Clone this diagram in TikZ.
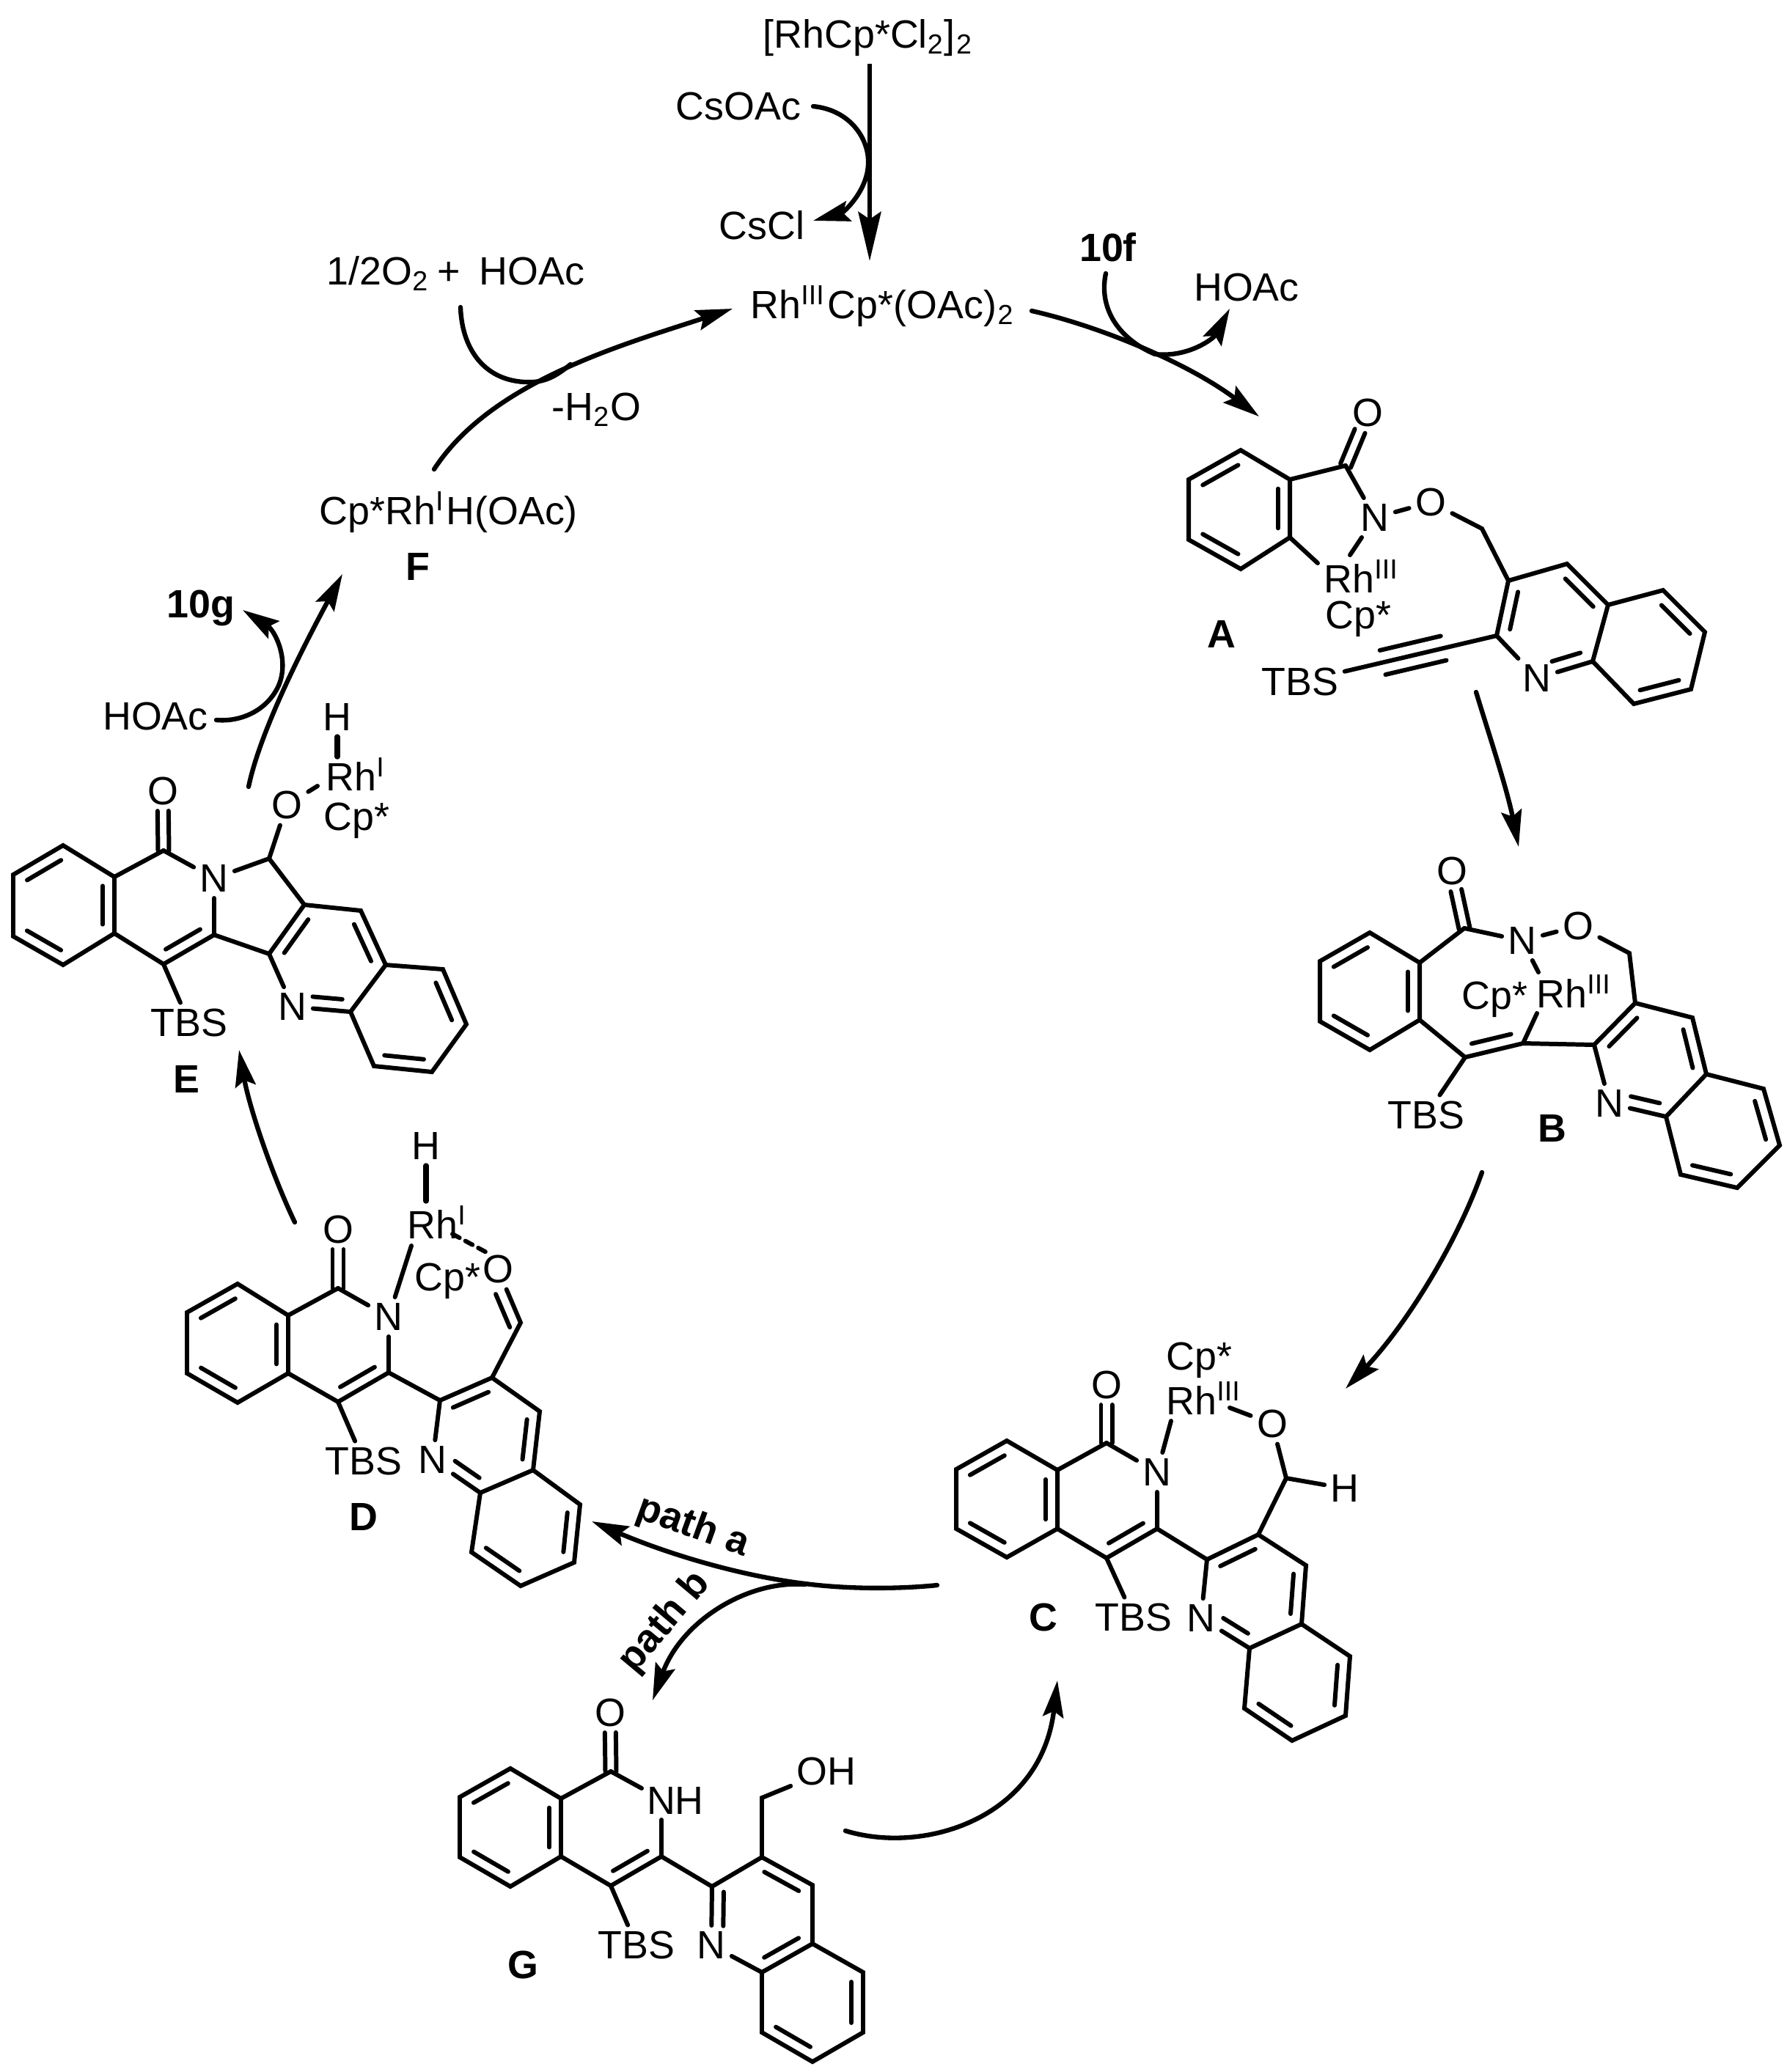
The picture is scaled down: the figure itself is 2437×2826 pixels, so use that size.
\documentclass[tikz,border=0pt]{standalone}
\usepackage{fontspec}
\setmainfont{Liberation Sans}
\usetikzlibrary{arrows.meta, calc}
\newcommand{\chemsize}{\fontsize{15.3}{18}\selectfont}
\tikzset{
    bond/.style={line width=1.7pt, line cap=round, line join=miter},
    atom_label/.style={inner sep=2.2pt, font=\chemsize},
    metal_label/.style={inner sep=0pt, anchor=base west, font=\chemsize},
    cmpd_tag/.style={inner sep=0pt, font=\chemsize\bfseries},
    step_arrow/.style={line width=1.8pt, line cap=round, -{Stealth[length=0.5cm, width=0.28cm, inset=0.08cm]}},
    plain_arc/.style={line width=1.8pt, line cap=round},
    long_arrow/.style={line width=1.8pt, -{Stealth[length=0.67cm, width=0.31cm, inset=0.1cm]}}
}
% inner line of a double bond, on the left going from #2 to #3
\newcommand{\inbond}[3][.16]{\draw[bond] ($(#2)!#1!(#3)!0.16cm!90:(#3)$) -- ($(#3)!.16!(#2)!0.16cm!-90:(#2)$);}
% C=O drawn as two lines either side of the axis
\newcommand{\cobond}[2]{
    \draw[bond, shorten >=0.27cm] ($(#1)!0.075cm!90:(#2)$) -- ($(#2)!0.075cm!-90:(#1)$);
    \draw[bond, shorten >=0.27cm] ($(#1)!0.075cm!-90:(#2)$) -- ($(#2)!0.075cm!90:(#1)$);
}

\begin{document}
\begin{tikzpicture}[x=0.01cm, y=-0.01cm]
    \useasboundingbox (0,0) rectangle (2437,2826);

    % Top : catalyst formation
    \foreach \n/\x/\y in {pre_top/1186/87, pre_end/1186/356, cs_in/1109/145, cs_mid/1184/222, cs_out/1109/301,
        f_out/592/640, rh_in/999/421, o2_in/628/419, o2_low/727/521, o2_end/778/497,
        rh_out/1407/424, a_in/1717/568, tenf_in/1508/373, tenf_low/1575/483, tenf_out/1677/421,
        a_out/2013/944, b_in/2071/1155, b_out/2021/1599, c_in/1835/1894, c_out/1278/2162,
        c_mid/1098/2160, d_in/807/2075, fork/1098/2161, g_in/890/2319, g_out/1153/2497, c_back/1442/2292,
        d_out/402/1667, e_in/326/1432, e_out/339/1073, f_in/467/783,
        hoac_in/295/982, hoac_mid/380/935, teng_out/331/832}{
        \coordinate (\n) at (\x,\y);
    }
    \node[metal_label] (rhdimer) at (1040,65) {[RhCp*Cl\textsubscript{2}]\hspace{0.03em}\textsubscript{2}};
    \node[atom_label] (csoac) at (1007,145) {CsOAc};
    \node[atom_label] (cscl) at (1039,307) {CsCl};
    \node[metal_label] (rhcat) at (1023,434) {Rh\textsuperscript{III}\hspace{0.06em}Cp*(OAc)\hspace{0.03em}\textsubscript{2}};
    \node[metal_label] (oxid) at (445,388) {1/2O\textsubscript{2}\hspace{0.22em}+\hspace{0.47em}HOAc};
    \node[metal_label] (water) at (752,573) {-H\textsubscript{2}O};
    \node[metal_label] (rhh) at (435,715) {Cp*Rh\textsuperscript{I}\hspace{0.04em}H(OAc)};
    \node[cmpd_tag] (tagF) at (570,773) {F};
    \node[cmpd_tag] (tenf) at (1511,337) {10f};
    \node[atom_label] (hoac_r) at (1700,392) {HOAc};
    \node[atom_label] (hoac_l) at (212,977) {HOAc};
    \node[metal_label, font=\chemsize\bfseries] (teng) at (227,842) {10g};

    \draw[long_arrow] (pre_top) -- (pre_end);
    \draw[plain_arc] (cs_in) .. controls (1160,150) and (1185,190) .. (cs_mid);
    \draw[step_arrow] (cs_mid) .. controls (1184,260) and (1150,290) .. (cs_out);
    \draw[step_arrow] (f_out) .. controls (670,520) and (850,470) .. (rh_in);
    \draw[plain_arc] (o2_in) .. controls (630,480) and (665,524) .. (o2_low) .. controls (745,520) and (760,512) .. (o2_end);
    \draw[step_arrow] (rh_out) .. controls (1500,445) and (1620,495) .. (a_in);
    \draw[plain_arc] (tenf_in) .. controls (1498,420) and (1525,462) .. (tenf_low);
    \draw[step_arrow] (tenf_low) .. controls (1620,488) and (1655,462) .. (tenf_out);

    % Steps round the cycle
    \draw[step_arrow] (a_out) .. controls (2030,1000) and (2055,1075) .. (b_in);
    \draw[step_arrow] (b_out) .. controls (1985,1700) and (1915,1810) .. (c_in);
    \draw[plain_arc] (c_out) .. controls (1230,2167) and (1160,2168) .. (c_mid);
    \draw[step_arrow] (c_mid) .. controls (1000,2148) and (900,2115) .. (d_in);
    \draw[step_arrow] (fork) .. controls (1020,2155) and (930,2210) .. (g_in);
    \draw[step_arrow] (g_out) .. controls (1260,2530) and (1420,2480) .. (c_back);
    \draw[step_arrow] (d_out) .. controls (370,1600) and (340,1510) .. (e_in);
    \draw[step_arrow] (e_out) .. controls (350,1020) and (385,935) .. (f_in);
    \draw[plain_arc] (hoac_in) .. controls (330,985) and (365,968) .. (hoac_mid);
    \draw[step_arrow] (hoac_mid) .. controls (395,900) and (375,860) .. (teng_out);
    \node[cmpd_tag, rotate=-20] (patha) at (945,2083) {path a};
    \node[cmpd_tag, rotate=50] (pathb) at (907,2213) {path b};

    % Molecule A
    \foreach \n/\x/\y in {a1/1692/614, a2/1621/654, a3/1621/736, a4/1692/776, a5/1759/733, a6/1759/654,
        a7/1835/635, a8/2021/721, a9/2057/792, a10/2137/769, a11/2193/825, a12/2172/902, a13/2041/867,
        a14/2268/805, a15/2325/862, a16/2306/940, a17/2228/960, arh1/1797/768, arh2/1841/757}{
        \coordinate (\n) at (\x,\y);
    }
    \node[atom_label] (aO1) at (1865,563) {O};
    \node[atom_label] (aN1) at (1875,706) {N};
    \node[atom_label] (aO2) at (1951,685) {O};
    \node[atom_label] (aN2) at (2096,925) {N};
    \node[atom_label] (aTBS) at (1773,930) {TBS};
    \node[metal_label] (aRh) at (1805,808) {Rh\textsuperscript{III}};
    \node[metal_label] (aCp) at (1807,857) {Cp*};
    \node[cmpd_tag] (tagA) at (1666,865) {A};
    \draw[bond] (a1) -- (a2) -- (a3) -- (a4) -- (a5) -- (a6) -- cycle;
    \inbond{a1}{a2} \inbond{a3}{a4} \inbond{a5}{a6}
    \draw[bond] (a6) -- (a7);
    \cobond{a7}{aO1}
    \draw[bond] (a7) -- (aN1);
    \draw[bond] (aN1) -- (aO2);
    \draw[bond] (aO2) -- (a8) -- (a9);
    \draw[bond] (a5) -- (arh1);
    \draw[bond] (aN1) -- (arh2);
    \draw[bond] (aN2) -- (a13) -- (a9) -- (a10) -- (a11) -- (a12) -- (aN2);
    \draw[bond] (a11) -- (a14) -- (a15) -- (a16) -- (a17) -- (a12);
    \inbond{a9}{a13} \inbond{a11}{a10} \inbond[.33]{aN2}{a12} \inbond{a15}{a14} \inbond{a17}{a16}
    \draw[bond] (aTBS) -- (a13);
    \draw[bond] ($(aTBS)!.42!(a13)!0.17cm!90:(a13)$) -- ($(a13)!.27!(aTBS)!0.17cm!-90:(aTBS)$);
    \draw[bond] ($(aTBS)!.42!(a13)!0.17cm!-90:(a13)$) -- ($(a13)!.27!(aTBS)!0.17cm!90:(aTBS)$);

    % Molecule B
    \foreach \n/\x/\y in {b1/1868/1272, b2/1800/1311, b3/1800/1393, b4/1868/1432, b5/1936/1391, b6/1936/1313,
        b7/1997/1266, b8/2222/1300, b9/2230/1368, b10/2308/1388, b11/2327/1465, b12/2272/1523, b13/2174/1425,
        b14/2405/1485, b15/2427/1562, b16/2369/1620, b17/2292/1602, b18/2077/1423, b19/1998/1442,
        brh1/2098/1326, brh2/2096/1382}{
        \coordinate (\n) at (\x,\y);
    }
    \node[atom_label] (bO1) at (1980,1188) {O};
    \node[atom_label] (bN1) at (2076,1283) {N};
    \node[atom_label] (bO2) at (2152,1263) {O};
    \node[atom_label] (bN2) at (2195,1505) {N};
    \node[atom_label] (bTBS) at (1945,1521) {TBS};
    \node[metal_label] (bCp) at (1993,1376) {Cp*};
    \node[metal_label] (bRh) at (2095,1374) {Rh\textsuperscript{III}};
    \node[cmpd_tag] (tagB) at (2117,1539) {B};
    \draw[bond] (b1) -- (b2) -- (b3) -- (b4) -- (b5) -- (b6) -- cycle;
    \inbond{b1}{b2} \inbond{b3}{b4} \inbond{b5}{b6}
    \draw[bond] (b6) -- (b7);
    \cobond{b7}{bO1}
    \draw[bond] (b7) -- (bN1);
    \draw[bond] (bN1) -- (bO2);
    \draw[bond] (bO2) -- (b8) -- (b9);
    \draw[bond] (bN1) -- (brh1);
    \draw[bond] (brh2) -- (b18);
    \draw[bond] (b5) -- (b19) -- (b18) -- (b13);
    \draw[bond] (b19) -- (bTBS);
    \inbond{b19}{b18}
    \draw[bond] (bN2) -- (b13) -- (b9) -- (b10) -- (b11) -- (b12) -- (bN2);
    \draw[bond] (b11) -- (b14) -- (b15) -- (b16) -- (b17) -- (b12);
    \inbond{b9}{b13} \inbond{b11}{b10} \inbond[.33]{bN2}{b12} \inbond{b15}{b14} \inbond{b17}{b16}

    % Molecule C
    \foreach \n/\x/\y in {c1/1373/1965, c2/1304/2004, c3/1304/2085, c4/1373/2124, c5/1442/2085, c6/1442/2005,
        c7/1509/1968, c8/1578/2085, c9/1509/2125, c10/1646/2127, c11/1716/2093, c12/1781/2135, c13/1775/2215,
        c14/1704/2248, c15/1841/2259, c16/1835/2340, c17/1762/2374, c18/1697/2330, c19/1754/2016,
        crh1/1597/1938, crh2/1677/1920}{
        \coordinate (\n) at (\x,\y);
    }
    \node[atom_label] (cO1) at (1509,1889) {O};
    \node[atom_label] (cN1) at (1578,2008) {N};
    \node[atom_label] (cO2) at (1735,1942) {O};
    \node[atom_label] (cN2) at (1638,2207) {N};
    \node[atom_label] (cH) at (1834,2030) {H};
    \node[atom_label] (cTBS) at (1546,2206) {TBS};
    \node[metal_label] (cCp) at (1590,1868) {Cp*};
    \node[metal_label] (cRh) at (1590,1929) {Rh\textsuperscript{III}};
    \node[cmpd_tag] (tagC) at (1423,2206) {C};
    \draw[bond] (c1) -- (c2) -- (c3) -- (c4) -- (c5) -- (c6) -- cycle;
    \inbond{c1}{c2} \inbond{c3}{c4} \inbond{c5}{c6}
    \draw[bond] (c6) -- (c7);
    \cobond{c7}{cO1}
    \draw[bond] (c7) -- (cN1);
    \draw[bond] (cN1) -- (c8) -- (c9) -- (c5);
    \inbond{c9}{c8}
    \draw[bond] (c9) -- (cTBS);
    \draw[bond] (cN1) -- (crh1);
    \draw[bond] (crh2) -- (cO2);
    \draw[bond] (cO2) -- (c19);
    \draw[bond] (c19) -- (cH);
    \draw[bond] (c8) -- (c10);
    \draw[bond] (c19) -- (c11);
    \draw[bond] (cN2) -- (c10) -- (c11) -- (c12) -- (c13) -- (c14) -- (cN2);
    \draw[bond] (c13) -- (c15) -- (c16) -- (c17) -- (c18) -- (c14);
    \inbond{c11}{c10} \inbond{c13}{c12} \inbond[.33]{cN2}{c14} \inbond{c16}{c15} \inbond{c18}{c17}

    % Molecule D
    \foreach \n/\x/\y in {d1/324/1751, d2/255/1790, d3/255/1873, d4/324/1913, d5/393/1873, d6/393/1794,
        d7/461/1757, d8/530/1872, d9/461/1912, d10/600/1910, d11/671/1879, d12/736/1925, d13/727/2005,
        d14/655/2036, d15/791/2052, d16/783/2131, d17/710/2163, d18/643/2117, d19/710/1804,
        drh1/561/1699, drh2/581/1638, drh3/617/1683, drh4/667/1710}{
        \coordinate (\n) at (\x,\y);
    }
    \node[atom_label] (dO1) at (461,1677) {O};
    \node[atom_label] (dN1) at (530,1796) {N};
    \node[atom_label] (dO2) at (679,1731) {O};
    \node[atom_label] (dN2) at (590,1991) {N};
    \node[atom_label] (dH) at (581,1563) {H};
    \node[atom_label] (dTBS) at (496,1993) {TBS};
    \node[metal_label] (dRh) at (555,1689) {Rh\textsuperscript{I}};
    \node[metal_label] (dCp) at (565,1760) {Cp*};
    \node[cmpd_tag] (tagD) at (496,2069) {D};
    \draw[bond] (d1) -- (d2) -- (d3) -- (d4) -- (d5) -- (d6) -- cycle;
    \inbond{d1}{d2} \inbond{d3}{d4} \inbond{d5}{d6}
    \draw[bond] (d6) -- (d7);
    \cobond{d7}{dO1}
    \draw[bond] (d7) -- (dN1);
    \draw[bond] (dN1) -- (d8) -- (d9) -- (d5);
    \inbond{d9}{d8}
    \draw[bond] (d9) -- (dTBS);
    \draw[bond] (dN1) -- (drh1);
    \draw[bond, line width=2.1pt] (dH) -- (drh2);
    \draw[bond, dash pattern=on 0.11cm off 0.09cm] (drh3) -- (drh4);
    \draw[bond] (d8) -- (d10);
    \draw[bond] (d11) -- (d19) -- (dO2);
    \draw[bond] ($(d19)!0.16cm!90:(dO2)$) -- ($(dO2)!.38!(d19)!0.16cm!-90:(d19)$);
    \draw[bond] (dN2) -- (d10) -- (d11) -- (d12) -- (d13) -- (d14) -- (dN2);
    \draw[bond] (d13) -- (d15) -- (d16) -- (d17) -- (d18) -- (d14);
    \inbond{d11}{d10} \inbond{d13}{d12} \inbond[.33]{dN2}{d14} \inbond{d16}{d15} \inbond{d18}{d17}

    % Molecule E
    \foreach \n/\x/\y in {e1/86/1153, e2/18/1193, e3/18/1277, e4/86/1316, e5/156/1273, e6/156/1196,
        e7/223/1160, e8/292/1275, e9/223/1315, e10/367/1171, e11/415/1234, e12/492/1242, e13/526/1316,
        e14/478/1380, e15/604/1322, e16/636/1397, e17/589/1462, e18/510/1454, e19/367/1301,
        erh1/433/1072, erh2/460/1032}{
        \coordinate (\n) at (\x,\y);
    }
    \node[atom_label] (eO1) at (222,1079) {O};
    \node[atom_label] (eN1) at (292,1198) {N};
    \node[atom_label] (eO2) at (391,1098) {O};
    \node[atom_label] (eN2) at (399,1373) {N};
    \node[atom_label] (eH) at (460,978) {H};
    \node[atom_label] (eTBS) at (258,1395) {TBS};
    \node[metal_label] (eRh) at (444,1078) {Rh\textsuperscript{I}};
    \node[metal_label] (eCp) at (441,1132) {Cp*};
    \node[cmpd_tag] (tagE) at (254,1472) {E};
    \draw[bond] (e1) -- (e2) -- (e3) -- (e4) -- (e5) -- (e6) -- cycle;
    \inbond{e1}{e2} \inbond{e3}{e4} \inbond{e5}{e6}
    \draw[bond] (e6) -- (e7);
    \cobond{e7}{eO1}
    \draw[bond] (e7) -- (eN1);
    \draw[bond] (eN1) -- (e8) -- (e9) -- (e5);
    \inbond{e9}{e8}
    \draw[bond] (e9) -- (eTBS);
    \draw[bond] (eN1) -- (e10) -- (e11);
    \draw[bond] (e10) -- (eO2);
    \draw[bond] (eO2) -- (erh1);
    \draw[bond, line width=2.1pt] (eH) -- (erh2);
    \draw[bond] (e8) -- (e19);
    \draw[bond] (eN2) -- (e19) -- (e11) -- (e12) -- (e13) -- (e14) -- (eN2);
    \draw[bond] (e13) -- (e15) -- (e16) -- (e17) -- (e18) -- (e14);
    \inbond{e11}{e19} \inbond{e13}{e12} \inbond[.33]{eN2}{e14} \inbond{e16}{e15} \inbond{e18}{e17}

    % Molecule G
    \foreach \n/\x/\y in {g1/696/2412, g2/627/2451, g3/627/2533, g4/696/2573, g5/765/2532, g6/765/2453,
        g7/833/2416, g8/902/2532, g9/833/2572, g10/971/2573, g11/1039/2533, g12/1108/2571, g13/1108/2651,
        g14/1039/2690, g15/1177/2690, g16/1177/2772, g17/1108/2812, g18/1039/2772, g19/1039/2452,
        gn1/875/2439, gn2/902/2482}{
        \coordinate (\n) at (\x,\y);
    }
    \node[atom_label] (gO1) at (832,2336) {O};
    \node[atom_label] (gNH) at (921,2456) {NH};
    \node[atom_label] (gOH) at (1127,2416) {OH};
    \node[atom_label] (gN2) at (970,2653) {N};
    \node[atom_label] (gTBS) at (868,2653) {TBS};
    \node[cmpd_tag] (tagG) at (713,2680) {G};
    \draw[bond] (g1) -- (g2) -- (g3) -- (g4) -- (g5) -- (g6) -- cycle;
    \inbond{g1}{g2} \inbond{g3}{g4} \inbond{g5}{g6}
    \draw[bond] (g6) -- (g7);
    \cobond{g7}{gO1}
    \draw[bond] (g7) -- (gn1);
    \draw[bond] (gn2) -- (g8) -- (g9) -- (g5);
    \inbond{g9}{g8}
    \draw[bond] (g9) -- (gTBS);
    \draw[bond] (g8) -- (g10);
    \draw[bond] (g11) -- (g19) -- (gOH);
    \draw[bond] (gN2) -- (g10) -- (g11) -- (g12) -- (g13) -- (g14) -- (gN2);
    \draw[bond] (g13) -- (g15) -- (g16) -- (g17) -- (g18) -- (g14);
    \draw[bond] ($(g10)!.09!(gN2)!0.16cm!90:(gN2)$) -- ($(gN2)!.33!(g10)!0.16cm!-90:(g10)$);
    \inbond{g12}{g11} \inbond{g14}{g13} \inbond{g16}{g15} \inbond{g18}{g17}
\end{tikzpicture}
\end{document}
